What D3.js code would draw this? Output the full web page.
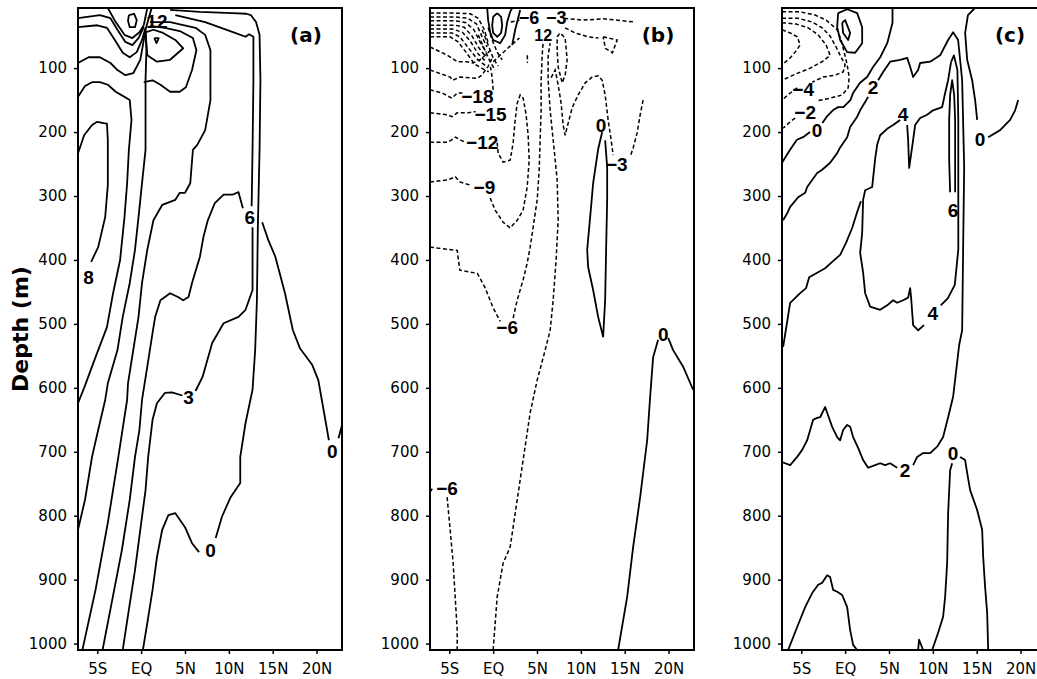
<!DOCTYPE html>
<html>
<head>
<meta charset="utf-8">
<script src="https://cdn.jsdelivr.net/npm/d3@7"></script>
<style>
  body { margin: 0; background: #fff; }
  svg { display: block; }
</style>
</head>
<body>
<svg id="chart" width="1037" height="679"></svg>
<script>
// ---- axes ----
const latTicks = [-5, 0, 5, 10, 15, 20];
const latTickLabels = ['5S', 'EQ', '5N', '10N', '15N', '20N'];
const depthTicks = [100, 200, 300, 400, 500, 600, 700, 800, 900, 1000];
const latDomain = [-7.2, 22.9];
const depthDomain = [6, 1010];

// ---- panel (a) contours, [lat, depth] ----
const a_c8 = [[-7.2,233],[-6.5,205],[-5.6,189],[-5.0,184],[-4.3,186],[-3.9,187],[-3.8,212],[-3.8,252],[-3.8,283],[-4.1,333],[-4.9,380],[-5.7,403]];
const a_c7 = [[-7.2,145],[-6.4,128],[-5.6,122],[-4.7,122],[-3.8,126],[-2.9,137],[-1.9,145],[-1.3,150],[-1.1,181],[-1.4,228],[-1.6,280],[-1.9,333],[-2.4,400],[-3.2,452],[-3.9,505],[-5.2,552],[-6.5,600],[-7.2,624]];
const a_c9 = [[-7.2,92],[-6.0,83],[-4.7,83],[-3.5,92],[-2.7,103],[-1.8,111],[-0.9,108],[-0.1,87],[0.2,64],[0.5,40]];
const a_c10 = [[-7.2,36],[-5.0,33],[-3.9,37],[-3.0,56],[-2.1,76],[-1.3,83],[-0.5,75],[0.1,56],[0.5,37]];
const a_c11 = [[-7.2,22],[-4.7,17],[-3.5,22],[-2.7,40],[-1.8,59],[-1.0,64],[-0.3,53],[0.3,36]];
const a_c12 = [[-3.8,6],[-2.9,28],[-1.9,48],[-1.0,53],[-0.2,44],[0.3,33]];
const a_dot = [[-1.4,17],[-0.8,15],[-0.5,25],[-0.7,36],[-1.3,36],[-1.5,26],[-1.4,17]];
const a_core1 = [[0.3,33],[0.7,6]];
const a_core2 = [[0.5,40],[0.9,20],[1.2,6]];
const a_r0 = [[3.3,9],[6.7,12],[10.4,14],[12.0,15],[12.5,17],[13.1,28],[13.5,48],[13.6,119],[13.5,228],[13.3,353],[13.2,463],[13.0,541],[12.7,603],[11.9,655],[11.3,708],[11.3,749],[10.2,771],[9.2,802],[8.5,835]];
const a_r0b = [[6.6,857],[5.8,843],[5.0,818],[3.9,796],[3.1,799],[2.4,822],[1.8,865],[1.3,916],[0.7,968],[0.2,1010]];
const a_r6 = [[3.9,17],[7.3,28],[10.7,45],[11.9,51],[12.3,47],[12.8,51],[12.8,119],[12.7,228],[12.6,316]];
const a_r6b = [[12.7,349],[12.7,447],[11.9,478],[11.1,489],[9.4,499],[8.1,530],[7.0,583],[6.2,605]];
const a_c3 = [[4.7,612],[3.5,607],[2.7,608],[1.8,624],[1.3,650],[0.8,708],[0.5,760],[-0.1,822],[-0.7,885],[-1.4,947],[-2.1,1010]];
const a_c6 = [[11.6,319],[11.1,294],[10.4,298],[9.4,298],[8.4,311],[7.6,338],[7.1,364],[6.7,395],[5.8,436],[5.4,458],[4.8,463],[4.2,458],[3.3,452],[2.2,463],[1.6,489],[1.3,514],[0.7,567],[0.1,619],[-0.2,666],[-0.7,708],[-1.3,775],[-2.2,854],[-3.3,932],[-4.4,1010]];
const a_c5 = [[1.0,28],[3.3,28],[6.2,37],[7.3,48],[7.9,72],[7.9,150],[7.3,197],[6.4,220],[5.9,228],[5.6,280],[5.0,295],[4.4,295],[3.9,306],[2.4,314],[1.4,338],[0.7,384],[0.1,436],[-0.3,489],[-0.9,541],[-1.5,593],[-1.6,619],[-2.6,708],[-3.8,811],[-5.2,916],[-6.7,1010]];
const a_c4 = [[0.5,40],[0.6,72],[0.5,119],[0.5,228],[0.1,280],[-0.3,333],[-0.7,384],[-1.3,436],[-2.1,489],[-2.7,541],[-3.8,593],[-4.1,619],[-4.9,666],[-5.6,708],[-6.4,775],[-7.2,822]];
const a_bump = [[0.3,122],[1.3,119],[2.2,126],[3.3,137],[4.4,137],[5.1,130],[5.8,103],[6.3,72],[5.9,53],[4.4,42],[2.7,37],[1.0,34]];
const a_loop = [[0.5,44],[0.7,80],[1.8,90],[3.3,87],[4.8,69],[3.9,56],[2.5,45],[1.4,40],[0.5,44]];
const a_tri = [[1.5,53],[2.0,53],[1.75,61],[1.5,53]];
const a_dome = [[13.8,341],[14.5,369],[15.3,395],[16.4,452],[17.3,510],[18.1,538],[19.5,564],[20.2,588],[20.6,619],[21.1,658],[21.4,682]];
const a_domeR = [[22.5,679],[22.9,658]];
const a_labels = [['12',1.8,27,19],['8',-6.0,427,19],['6',12.4,333,19],['3',5.4,615,19],['0',7.9,855,19],['0',21.8,700,19]];

// ---- panel (b) contours ----
const b_s1 = [[-7.2,14],[-4.3,14],[-2.6,15],[-1.7,22],[-1.0,40],[-0.6,59]];
const b_s2 = [[-7.2,20],[-4.3,20],[-2.9,22],[-1.9,31],[-1.3,50],[-0.7,67]];
const b_s3 = [[-7.2,26],[-4.3,26],[-3.1,29],[-2.2,40],[-1.5,59],[-0.8,75]];
const b_s4 = [[-7.2,33],[-4.3,33],[-3.3,36],[-2.4,50],[-1.6,69],[-0.8,83]];
const b_s5 = [[-7.2,39],[-4.6,39],[-3.5,44],[-2.6,58],[-1.7,78],[-0.8,90]];
const b_s6 = [[-7.2,45],[-4.7,45],[-3.8,51],[-2.9,67],[-1.8,86],[-0.7,98]];
const b_s7 = [[-7.2,51],[-4.9,51],[-4.0,59],[-3.1,75],[-2.1,94],[-0.5,106]];
const b_k1 = [[-1.71,48],[-1.03,69],[-0.34,90],[0.23,103]];
const b_k2 = [[-1.25,40],[-0.57,64],[0,84],[0.57,97]];
const b_k3 = [[-0.57,37],[-0.11,56],[0.46,75],[1.03,87]];
const b_k4 = [[0.0,90],[0.8,80],[1.9,66],[3.0,53]];
const b_21 = [[-7.2,67],[-5.2,80],[-4.1,90],[-3.0,90],[-2.3,92],[-1.5,87],[-0.9,80],[-0.3,72]];
const b_20 = [[-7.2,103],[-4.9,114],[-4.6,119],[-3.8,114],[-1.8,116],[-1.3,111],[-0.6,98],[-0.1,84]];
const b_18 = [[-7.2,134],[-5.8,139],[-4.7,147],[-4.1,139],[-3.5,139]];
const b_18r = [[0,134],[-0.1,116],[-0.3,98]];
const b_15 = [[-7.2,170],[-5.2,173],[-4.7,176],[-4.1,170],[-2.9,170],[-2.0,168]];
const b_12 = [[-7.2,216],[-5.2,216],[-4.7,212],[-4.3,208],[-3.8,212],[-3.2,216]];
const b_9 = [[-7.2,278],[-5.2,275],[-4.3,270],[-3.8,278],[-2.6,283]];
const b_mid = [[-0.34,303],[0.23,322],[1.14,341],[1.94,350],[2.74,338],[3.42,322],[3.88,286],[4.11,244],[3.99,205],[3.76,173],[3.42,147],[3.08,142],[2.74,155],[2.51,181],[2.28,217],[1.94,244],[1.14,247],[0.57,233],[0.46,217]];
const b_6 = [[-7.2,380],[-4.1,385],[-3.8,416],[-1.8,421],[-0.9,444],[0,475],[0.8,496]];
const b_6r = [[2.28,491],[2.74,463],[3.42,431],[3.88,405],[4.22,380],[4.56,349],[5.02,306],[5.25,259],[5.36,212],[5.47,166],[5.47,119],[5.59,80],[5.7,59]];
const b_diag = [[0,1010],[0.46,927],[1.14,874],[1.94,849],[3.08,744],[4.22,639],[5.02,588],[5.93,541],[6.5,510],[6.84,463],[7.18,400],[7.41,338],[7.3,275],[6.84,212],[6.5,166],[6.27,119],[6.27,80],[6.5,61]];
const b_loop = [[7.3,51],[7.64,45],[8.21,53],[8.44,87],[8.21,111],[7.87,123],[7.41,98],[7.3,72],[7.3,51]];
const b_v = [[6.61,115],[7.07,103],[7.41,126],[7.75,155],[7.98,189],[8.21,205],[8.44,192],[9.01,162],[9.69,142],[10.49,123],[11.29,114],[11.97,112],[12.43,119],[12.77,142],[13.11,181],[13.45,212],[13.68,236]];
const b_3r = [[17.1,150],[16.76,173],[16.42,201],[15.96,225],[15.62,239]];
const b_top3 = [[8.1,22],[10.26,25],[12.54,23],[14.82,26],[16.19,28]];
const b_top6 = [[2.0,28],[3.0,25]];
const b_tri = [[12.54,51],[14.14,56],[13.6,76],[12.8,69],[12.54,51]];
const b_3mid = [[8.2,37],[9.35,45],[10.8,51],[12.0,53]];
const b_tick = [[3.9,80],[3.9,92]];
const b_6bl = [[-7.2,763],[-6.9,757]];
const b_6b = [[-5.25,771],[-4.9,822],[-4.56,874],[-4.33,927],[-4.1,979],[-4.1,1010]];
const b_0loop = [[12.43,200],[11.97,227],[11.4,280],[11.06,333],[10.72,384],[10.83,411],[11.4,447],[11.97,489],[12.54,520],[12.77,463],[12.88,384],[13.0,306],[13.0,255],[12.77,213]];
const b_0r = [[14.25,1010],[15.28,927],[15.96,849],[16.76,771],[17.56,682],[17.9,614],[18.24,552],[18.81,525]];
const b_0rr = [[19.95,522],[20.52,541],[21.66,567],[22.8,603]];
const b_ell = [[0.46,14],[0.91,20],[1.03,33],[0.91,45],[0.46,51],[0,45],[-0.11,33],[0,20],[0.46,14]];
const b_u = [[-0.68,6],[-0.57,25],[-0.34,44],[0,56],[0.8,61],[1.37,48],[1.6,28],[1.94,12],[2.17,6]];
const b_u2 = [[2.17,64],[2.51,40],[2.85,22],[3.08,9]];
const b_labels = [['\u221218',-1.8,145,19],['\u221215',-0.3,173,19],['\u221212',-1.25,216,19],['\u22129',-1.0,286,19],['\u22126',1.6,506,19],['\u22126',4.1,22,18],['\u22123',7.2,22,18],['12',5.7,49,16],['0',12.3,189,19],['\u22123',14.1,250,19],['0',19.4,517,19],['\u22126',-5.25,757,19]];

// ---- panel (c) contours ----
const c_n2 = [[-7.2,12],[-5.13,12],[-3.42,17],[-2.17,25],[-1.48,33],[-0.91,40],[-0.46,56],[-0.11,75],[0.23,95],[0.46,114],[0.34,131],[-0.34,142],[-1.71,147],[-3.19,151]];
const c_n2b = [[-5.7,178],[-6.27,184],[-7.07,194]];
const c_n4 = [[-7.2,22],[-5.36,22],[-3.76,28],[-2.62,37],[-1.71,50],[-1.03,67],[-0.46,83],[0,95],[-0.23,106],[-1.14,111],[-2.51,114],[-3.76,122]];
const c_n4b = [[-5.47,131],[-6.27,139],[-7.2,150]];
const c_n6 = [[-7.2,29],[-5.59,31],[-4.22,37],[-3.08,48],[-2.17,64],[-1.71,80],[-2.62,90],[-3.99,100],[-5.59,109],[-7.2,119]];
const c_n8 = [[-7.2,40],[-6.27,45],[-5.47,51],[-5.13,64],[-5.7,75],[-6.27,84],[-7.2,95]];
const c_ell = [[-0.8,14],[0.23,8],[1.37,14],[1.94,36],[1.94,61],[1.14,76],[0.23,75],[-0.57,56],[-0.91,36],[-0.8,14]];
const c_ell2 = [[-0.34,29],[0,25],[0.57,45],[0.34,56],[-0.23,45],[-0.34,29]];
const c_0a = [[-7.2,248],[-6.3,228],[-5.5,212],[-4.8,208],[-4.0,200]];
const c_0b = [[-2.6,186],[-2.1,176],[-1.4,166],[-0.8,161],[-0.2,161],[0.6,150],[0.9,139],[1.7,123],[2.5,114],[3.2,98],[4.0,83],[4.8,61],[5.1,45],[5.4,29],[5.4,6]];
const c_2a = [[-7.07,338],[-6.61,327],[-6.27,317],[-5.36,302],[-4.56,295],[-4.33,286],[-3.76,275],[-3.19,264],[-2.62,259],[-1.71,248],[-0.91,233],[-0.57,224],[0.23,208],[0.57,192],[1.37,176],[1.71,166],[2.28,153],[2.62,145]];
const c_2b = [[3.76,119],[4.33,106],[5.13,90],[6.27,87],[7.07,84],[7.41,98],[7.75,114],[8.32,103],[8.55,92],[9.69,90],[10.83,80],[11.74,56],[12.31,44],[12.88,56],[13.34,119],[13.57,255],[13.45,384],[13.34,510],[13.0,533],[12.31,614],[11.74,646],[11.17,677],[10.49,692],[9.69,702],[8.89,702],[8.21,708],[7.75,721]];
const c_2c = [[5.93,725],[5.13,718],[4.56,721],[3.99,718],[3.42,721],[2.62,725],[2.05,713],[1.48,694],[0.91,677],[0.57,661],[0.23,658],[-0.23,666],[-0.57,682],[-0.91,677],[-1.48,661],[-2.05,639],[-2.28,630],[-2.85,646],[-3.19,647],[-3.65,650],[-3.99,666],[-4.33,682],[-4.9,697],[-5.47,708],[-6.27,721],[-6.84,718],[-7.2,716]];
const c_4a = [[6.27,181],[5.47,189],[4.79,195],[3.99,205],[3.65,220],[3.42,242],[3.08,286],[2.28,291],[2.05,306],[1.94,358],[1.71,389],[2.05,420],[2.28,452],[2.85,473],[3.99,478],[4.79,471],[5.47,463],[5.93,467],[6.61,463],[7.18,459],[7.41,444],[7.52,459],[7.75,502],[8.32,510],[9.0,502]];
const c_4d = [[-7.07,536],[-6.27,467],[-5.13,452],[-4.45,444],[-4.1,427],[-3.19,420],[-2.28,413],[-1.48,403],[-0.57,392],[0.11,373],[0.8,350],[1.37,325],[1.8,308]];
const c_4b = [[10.9,471],[11.7,460],[12.5,439],[12.9,384],[12.9,306],[12.9,181],[12.8,103],[12.4,80],[12.1,90]];
const c_4c = [[7.07,189],[7.18,212],[7.3,256],[7.64,223],[7.98,189],[8.55,178],[9.35,173],[10.03,166],[11.06,161],[11.4,139],[11.74,119],[12.08,90]];
const c_6 = [[11.97,294],[11.86,244],[11.86,181],[11.97,142],[12.2,119],[12.43,142],[12.54,181],[12.54,244],[12.54,294]];
const c_0bot = [[9.92,1010],[10.6,983],[11.17,958],[11.4,927],[11.63,874],[11.74,796],[11.97,729],[12.2,718]];
const c_0botR = [[13.11,708],[13.68,713],[13.91,733],[14.25,760],[15.05,791],[15.62,822],[15.74,865],[15.96,912],[16.19,952],[16.31,1010]];
const c_spike = [[8.32,1010],[8.43,994],[8.89,1010]];
const c_hump = [[-6.5,1010],[-5.47,974],[-4.56,943],[-3.76,921],[-3.08,908],[-2.62,905],[-2.05,893],[-1.71,896],[-1.37,916],[-0.91,919],[-0.34,924],[0.23,943],[0.57,979],[0.91,1002],[1.37,1010]];
const c_0r = [[14.8,6],[14.0,17],[13.68,45],[13.91,87],[14.48,119],[14.82,150],[15.05,181]];
const c_0rr = [[16.31,208],[17.67,197],[18.81,181],[19.38,166],[19.73,150]];
const c_labels = [['\u22124',-4.79,134,19],['\u22122',-4.56,169,19],['0',-3.2,197,19],['2',3.19,131,19],['4',6.6,173,19],['6',12.3,322,19],['4',10.0,483,19],['0',15.39,212,19],['2',6.84,729,19],['0',12.3,702,19]];

// ---- panels ----
const panels = [
  { left: 78, name: '(a)',
    solid: [a_c8, a_c7, a_c9, a_c10, a_c11, a_c12, a_dot, a_core1, a_core2, a_r0, a_r0b, a_r6, a_r6b, a_c3, a_c6, a_c5, a_c4, a_bump, a_loop, a_tri, a_dome, a_domeR],
    dashed: [], labels: a_labels },
  { left: 430, name: '(b)',
    solid: [b_0loop, b_0r, b_0rr, b_ell, b_u, b_u2],
    dashed: [b_s1, b_s2, b_s3, b_s4, b_s5, b_s6, b_s7, b_k1, b_k2, b_k3, b_k4, b_21, b_20, b_18, b_18r, b_15, b_12, b_9, b_mid, b_6, b_6r, b_diag, b_loop, b_v, b_3r, b_top3, b_top6, b_tri, b_3mid, b_tick, b_6bl, b_6b],
    labels: b_labels },
  { left: 782, name: '(c)',
    solid: [c_ell, c_ell2, c_0a, c_0b, c_2a, c_2b, c_2c, c_4a, c_4d, c_4b, c_4c, c_6, c_0bot, c_0botR, c_spike, c_hump, c_0r, c_0rr],
    dashed: [c_n2, c_n2b, c_n4, c_n4b, c_n6, c_n8],
    labels: c_labels }
];

const W = 264, plotTop = 8, H = 642;
const svg = d3.select('#chart');

panels.forEach(function(p, i) {
  const x = d3.scaleLinear().domain(latDomain).range([p.left, p.left + W]);
  const y = d3.scaleLinear().domain(depthDomain).range([plotTop, plotTop + H]);
  const line = d3.line().x(d => x(d[0])).y(d => y(d[1]));
  const g = svg.append('g');

  g.append('clipPath').attr('id', 'clip' + i)
    .append('rect').attr('x', p.left).attr('y', plotTop).attr('width', W).attr('height', H);

  const plot = g.append('g').attr('clip-path', 'url(#clip' + i + ')');
  plot.selectAll('path.solid').data(p.solid).join('path')
    .attr('class', 'solid')
    .attr('d', line)
    .attr('fill', 'none')
    .attr('stroke', '#000')
    .attr('stroke-width', 1.8)
    .attr('stroke-linejoin', 'round');
  plot.selectAll('path.dashed').data(p.dashed).join('path')
    .attr('class', 'dashed')
    .attr('d', line)
    .attr('fill', 'none')
    .attr('stroke', '#000')
    .attr('stroke-width', 1.5)
    .attr('stroke-dasharray', '4,2.5');

  // contour labels
  plot.selectAll('text').data(p.labels).join('text')
    .attr('x', d => x(d[1]))
    .attr('y', d => y(d[2]))
    .attr('text-anchor', 'middle')
    .attr('dominant-baseline', 'central')
    .style('font-family', '"Liberation Sans", Arial, sans-serif')
    .style('font-weight', 'bold')
    .style('font-size', d => d[3] + 'px')
    .text(d => d[0]);

  // frame
  g.append('rect')
    .attr('x', p.left).attr('y', plotTop).attr('width', W).attr('height', H)
    .attr('fill', 'none').attr('stroke', '#000').attr('stroke-width', 2);

  // axes
  const yAxis = g.append('g').attr('transform', 'translate(' + p.left + ',0)')
    .call(d3.axisLeft(y).tickValues(depthTicks).tickSize(4).tickPadding(7)
      .tickFormat(d3.format('d')));
  const xAxis = g.append('g').attr('transform', 'translate(0,' + (plotTop + H) + ')')
    .call(d3.axisBottom(x).tickValues(latTicks).tickSize(4).tickPadding(9)
      .tickFormat((d, k) => latTickLabels[k]));
  [yAxis, xAxis].forEach(function(ax) {
    ax.select('.domain').remove();
    ax.selectAll('line').attr('stroke', '#000').attr('stroke-width', 1.5);
    ax.selectAll('text')
      .style('font-family', '"DejaVu Sans", sans-serif')
      .style('font-size', '15px')
      .attr('fill', '#000');
  });

  g.append('text')
    .attr('x', p.left + 228).attr('y', 42)
    .attr('text-anchor', 'middle')
    .style('font-family', '"DejaVu Sans", sans-serif')
    .style('font-weight', 'bold')
    .style('font-size', '20px')
    .text(p.name);
});

svg.append('text')
  .attr('transform', 'translate(28,329) rotate(-90)')
  .attr('text-anchor', 'middle')
  .style('font-family', '"DejaVu Sans", sans-serif')
  .style('font-weight', 'bold')
  .style('font-size', '22px')
  .text('Depth (m)');
</script>
</body>
</html>
